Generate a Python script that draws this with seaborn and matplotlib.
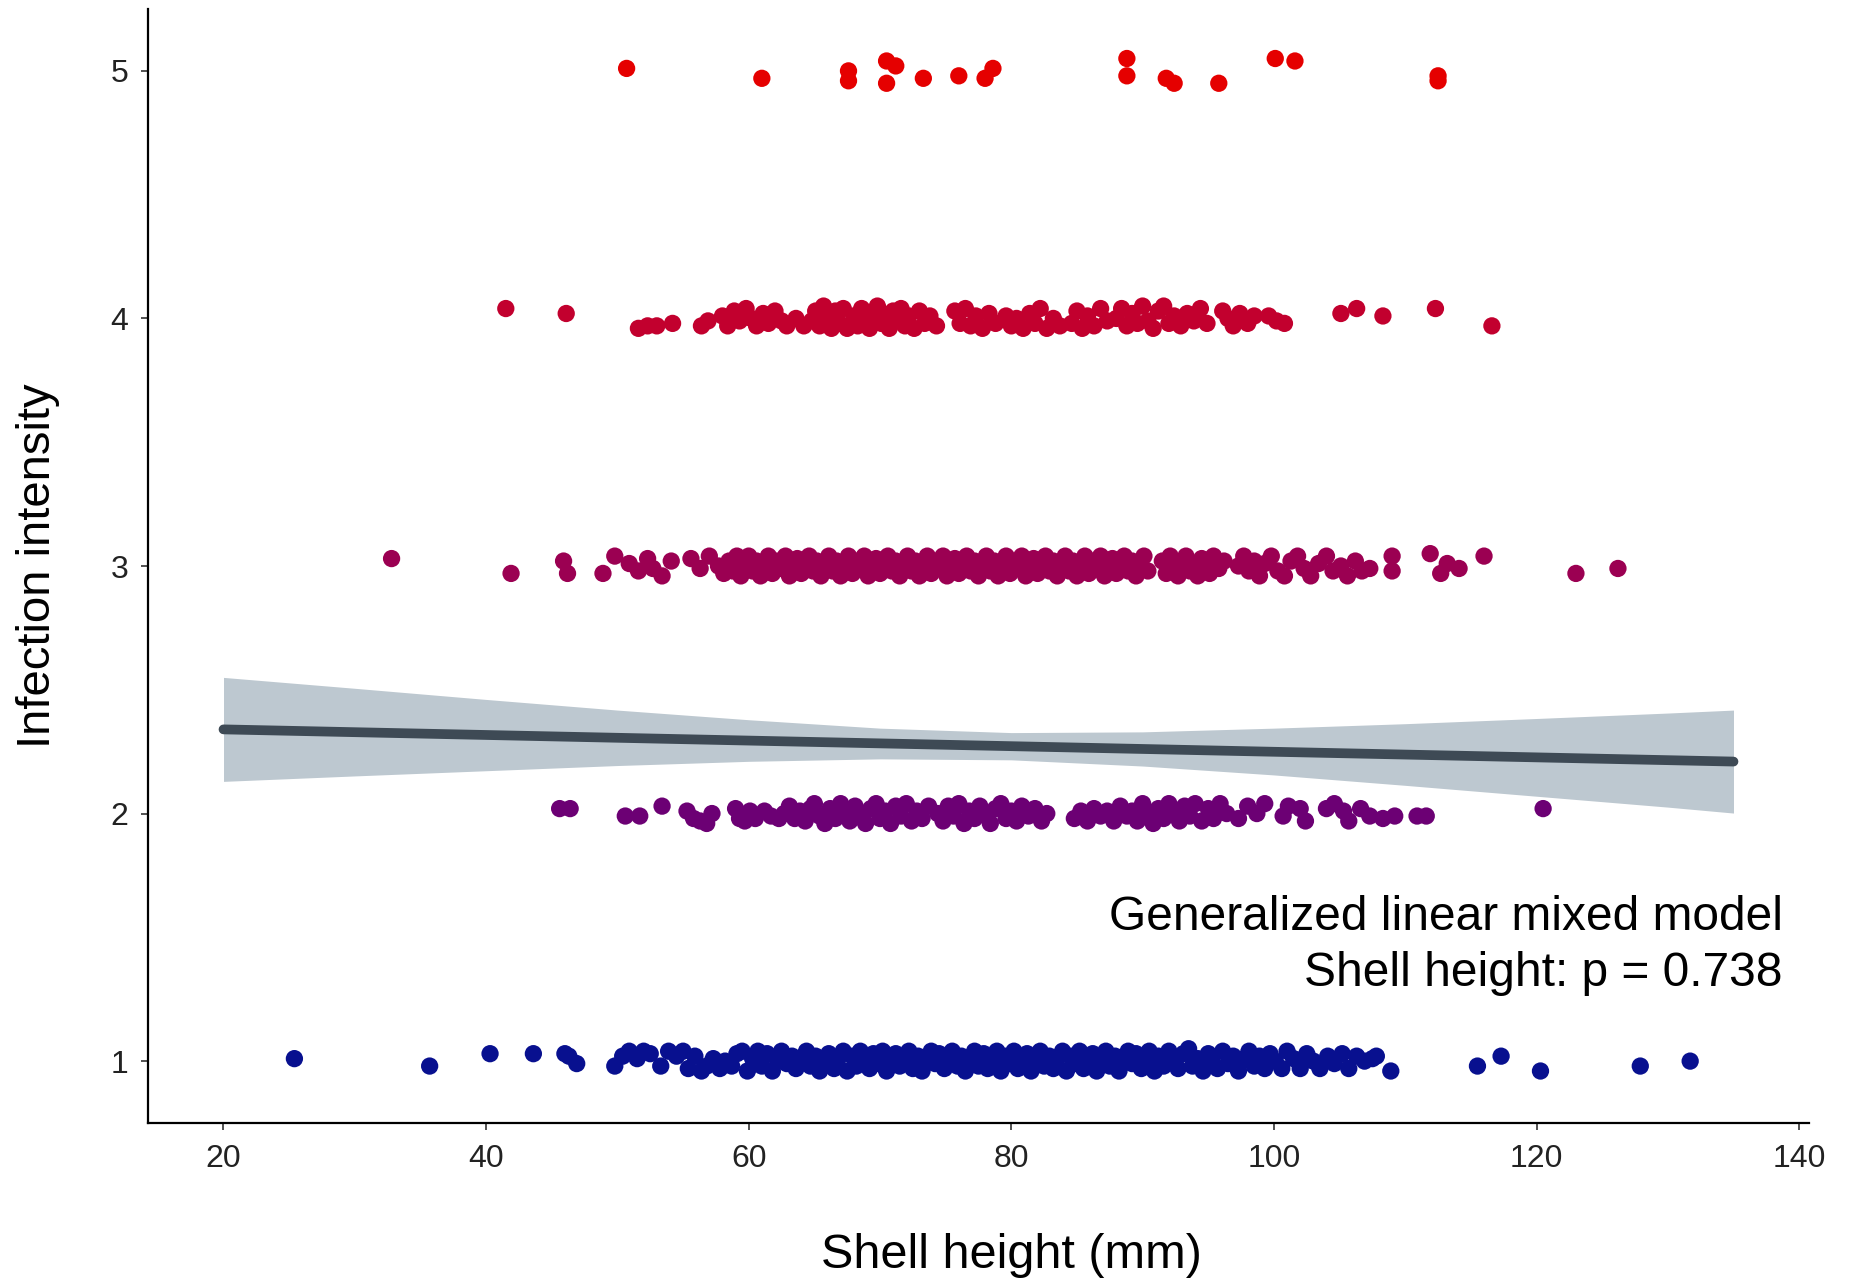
import matplotlib
matplotlib.use("Agg")
import matplotlib.pyplot as plt
import seaborn as sns
import pandas as pd

# ---- observations: (shell height in mm, jittered infection intensity) ----
level1 = [(25.4,1.01),(35.7,0.98),(40.3,1.03),(43.6,1.03),(46.0,1.03),(46.3,1.02),(46.9,0.99),
(49.8,0.98),(50.4,1.02),(50.9,1.04),(51.5,1.01),(52.0,1.04),(52.5,1.03),(53.3,0.98),(53.9,1.04),(54.5,1.02),(55.0,1.04),(55.4,0.97),(55.9,1.02),(56.4,0.96),(56.8,0.98),(57.3,1.01),(57.8,0.97),(58.2,1.00),(58.7,0.98),(59.1,1.03),(59.5,1.04),(59.9,0.96),(60.3,1.01),(60.7,1.04),(61.0,0.98),(61.4,1.03),(61.8,0.96),(62.2,1.00),(62.5,1.04),(62.9,0.99),(63.3,1.02),(63.6,0.97),(64.0,1.01),(64.4,1.04),(64.7,0.98),(65.1,1.02),(65.4,0.96),(65.8,1.00),(66.1,1.03),(66.5,0.97),(66.8,1.01),(67.2,1.04),(67.5,0.96),(67.9,1.02),(68.2,0.98),(68.5,1.04),(68.9,1.00),(69.2,0.97),(69.5,1.03),(69.9,0.99),(70.2,1.04),(70.5,0.96),(70.9,1.01),(71.2,1.03),(71.5,0.98),(71.9,1.00),(72.2,1.04),(72.5,0.97),(72.9,1.02),(73.2,0.96),(73.5,1.01),(73.9,1.04),(74.2,0.99),(74.5,1.03),(74.9,0.97),(75.2,1.00),(75.5,1.04),(75.9,0.98),(76.2,1.02),(76.5,0.96),(76.9,1.01),(77.2,1.04),(77.5,0.98),(77.9,1.03),(78.2,0.97),(78.5,1.00),(78.9,1.04),(79.2,0.96),(79.5,1.02),(79.9,0.99),(80.2,1.04),(80.5,0.97),(80.9,1.01),(81.2,1.03),(81.5,0.96),(81.9,1.00),(82.2,1.04),(82.5,0.98),(82.9,1.02),(83.2,0.97),(83.5,1.01),(83.9,1.04),(84.2,0.96),(84.5,1.02),(84.9,0.99),(85.2,1.04),(85.5,0.97),(85.9,1.01),(86.2,1.03),(86.5,0.96),(86.9,1.00),(87.2,1.04),(87.5,0.98),(87.9,1.02),(88.2,0.96),(88.5,1.01),(88.9,1.04),(89.2,0.99),(89.5,1.03),(89.9,0.97),(90.2,1.00),(90.5,1.04),(90.9,0.96),(91.2,1.02),(91.6,0.98),(92.0,1.04),(92.3,1.00),(92.7,0.97),(93.1,1.03),(93.5,1.05),(93.8,0.98),(94.2,1.01),(94.6,0.96),(95.0,1.03),(95.3,1.00),(95.7,0.97),(96.1,1.04),(96.5,0.99),(96.9,1.02),(97.3,0.96),(97.7,1.01),(98.1,1.04),(98.5,0.98),(98.9,1.02),(99.3,0.97),(99.7,1.03),(100.1,1.00),(100.6,0.97),(101.0,1.04),(101.5,1.01),(102.0,0.97),(102.5,1.03),(103.0,1.00),(103.5,0.97),(104.1,1.02),(104.6,0.99),(105.2,1.03),(105.7,0.97),(106.3,1.02),(106.9,1.00),(107.5,1.01),(107.8,1.02),(108.9,0.96),
(115.5,0.98),(117.3,1.02),(120.3,0.96),(127.9,0.98),(131.7,1.00)]

level2 = [(45.6,2.02),(46.4,2.02),(50.6,1.99),(51.7,1.99),(53.4,2.03),(55.3,2.01),(55.8,1.98),(56.3,1.97),(56.8,1.96),(57.2,2.00),
(59.0,2.02),(59.3,1.98),(59.7,1.97),(60.1,2.01),(60.5,1.98),(61.2,2.01),(61.7,1.99),(62.3,1.98),
(62.7,2.00),(63.1,2.03),(63.5,1.98),(63.9,2.01),(64.3,1.97),(64.7,2.02),(65.0,2.04),(65.4,1.99),(65.8,1.96),(66.2,2.02),(66.6,1.98),(67.0,2.04),(67.3,2.00),(67.7,1.97),(68.1,2.03),(68.5,1.99),(68.9,1.96),(69.3,2.02),(69.7,2.04),(70.0,1.98),(70.4,2.01),(70.8,1.96),(71.2,2.03),(71.6,1.99),(72.0,2.04),(72.4,1.97),(72.8,2.01),(73.2,1.98),(73.7,2.03),
(74.4,2.00),(74.8,1.97),(75.2,2.03),(75.6,1.99),(76.0,2.04),(76.4,1.96),(76.8,2.01),(77.2,1.98),(77.6,2.03),(78.0,2.00),(78.4,1.96),(78.8,2.02),(79.2,2.04),(79.6,1.98),(80.0,2.01),(80.4,1.97),(80.8,2.03),(81.3,1.99),(81.8,2.02),(82.3,1.97),(82.7,2.00),
(84.8,1.98),(85.3,2.01),(85.8,1.97),(86.3,2.02),(86.8,1.99),(87.3,2.01),(87.8,1.97),(88.3,2.03),(88.8,1.99),(89.2,2.01),(89.6,1.97),(90.0,2.04),(90.4,2.00),(90.8,1.96),(91.2,2.02),(91.6,1.98),(92.0,2.04),(92.4,2.00),(92.8,1.97),(93.2,2.03),(93.6,1.99),(94.0,2.04),(94.5,1.97),(95.0,2.02),(95.4,1.98),(95.9,2.04),(96.4,2.00),
(97.3,1.98),(98.0,2.03),(98.7,2.00),(99.3,2.04),(100.7,1.99),(101.1,2.03),(102.0,2.02),(102.4,1.97),(104.0,2.02),(104.6,2.04),(105.3,2.01),(105.7,1.97),(106.6,2.02),(107.3,1.99),(108.3,1.98),(109.2,1.99),(110.9,1.99),(111.6,1.99),(120.5,2.02)]

level3 = [(32.8,3.03),(41.9,2.97),(45.9,3.02),(46.2,2.97),(48.9,2.97),(49.8,3.04),
(50.9,3.01),(51.6,2.98),(52.3,3.03),(52.7,2.99),(53.4,2.96),(54.1,3.02),(55.6,3.03),(56.3,2.99),(57.0,3.04),(57.7,3.00),(58.1,2.97),
(58.5,3.02),(58.8,2.98),(59.1,3.04),(59.4,2.96),(59.7,3.01),(60.0,3.04),(60.3,2.98),(60.6,3.02),(60.9,2.96),(61.2,3.00),(61.5,3.04),(61.8,2.97),(62.1,3.02),(62.5,2.99),(62.8,3.04),(63.1,2.96),(63.4,3.01),(63.7,3.03),(64.0,2.97),(64.3,3.00),(64.6,3.04),(64.9,2.98),(65.2,3.02),(65.5,2.96),(65.8,3.01),(66.1,3.04),(66.4,2.98),(66.7,3.02),(67.0,2.96),(67.3,3.00),(67.6,3.04),(67.9,2.97),(68.2,3.02),(68.5,2.99),(68.8,3.04),(69.1,2.96),(69.4,3.01),(69.7,3.03),(70.0,2.97),(70.3,3.00),(70.6,3.04),(70.9,2.98),(71.2,3.02),(71.5,2.96),(71.8,3.01),(72.1,3.04),(72.4,2.98),(72.7,3.02),(73.0,2.96),(73.3,3.00),(73.6,3.04),(73.9,2.97),(74.2,3.02),(74.5,2.99),(74.8,3.04),(75.1,2.96),(75.4,3.01),(75.7,3.03),(76.0,2.97),(76.3,3.00),(76.6,3.04),(76.9,2.98),(77.2,3.02),(77.5,2.96),(77.8,3.01),(78.1,3.04),(78.4,2.98),(78.7,3.02),(79.0,2.96),(79.3,3.00),(79.6,3.04),(79.9,2.97),(80.2,3.02),(80.5,2.99),(80.8,3.04),(81.1,2.96),(81.4,3.01),(81.7,3.03),(82.0,2.97),(82.3,3.00),(82.6,3.04),(82.9,2.98),(83.2,3.02),(83.5,2.96),(83.8,3.01),(84.1,3.04),(84.4,2.98),(84.7,3.02),(85.0,2.96),(85.3,3.00),(85.6,3.04),(85.9,2.97),(86.2,3.02),(86.5,2.99),(86.8,3.04),(87.1,2.96),(87.4,3.01),(87.7,3.03),(88.0,2.97),(88.3,3.00),(88.6,3.04),(88.9,2.98),(89.2,3.02),(89.5,2.96),(89.8,3.01),(90.1,3.04),(90.4,2.98),
(91.5,3.02),(91.8,2.97),(92.1,3.04),(92.4,3.00),(92.7,2.96),(93.0,3.02),(93.3,3.04),(93.6,2.98),(93.9,3.01),(94.2,2.96),(94.5,3.03),(94.8,3.00),(95.1,2.97),(95.4,3.04),(95.8,2.99),(96.2,3.02),
(97.3,3.00),(97.7,3.04),(98.1,2.98),(98.5,3.02),(98.9,2.96),(99.3,3.01),(99.8,3.04),(100.3,2.98),(100.8,2.96),(101.3,3.02),(101.8,3.04),(102.3,2.99),(102.8,2.96),(103.4,3.01),(104.0,3.04),(104.5,2.98),(105.1,3.00),(105.6,2.96),(106.2,3.02),(106.7,2.98),(107.3,2.99),
(109.0,3.04),(109.0,2.98),(111.9,3.05),(112.7,2.97),(113.2,3.01),(114.1,2.99),(116.0,3.04),(123.0,2.97),(126.2,2.99)]

level4 = [(41.5,4.04),(46.1,4.02),(51.6,3.96),(52.3,3.97),(53.0,3.97),(54.2,3.98),
(56.4,3.97),(56.9,3.99),(58.0,4.01),(58.4,3.97),(58.9,4.03),(59.3,3.99),(59.8,4.04),(60.2,4.00),(60.6,3.97),(61.1,4.02),(61.5,3.98),(62.0,4.03),(62.5,3.99),(62.9,3.97),(63.6,4.00),(64.2,3.97),(64.8,3.99),(65.1,4.03),(65.4,3.97),(65.7,4.05),(66.0,4.00),(66.3,3.96),(66.6,4.03),(66.9,3.98),(67.2,4.04),(67.5,3.96),(68.0,4.01),(68.3,3.97),(68.6,4.04),(68.9,3.99),(69.2,3.96),(69.5,4.02),(69.8,4.05),(70.1,3.98),(70.4,4.01),(70.7,3.96),(71.0,4.03),(71.3,3.99),(71.6,4.04),(71.9,3.97),(72.2,4.01),(72.6,3.96),(73.0,4.03),(73.4,3.98),(73.8,4.01),(74.3,3.97),(75.7,4.03),(76.1,3.98),(76.5,4.04),(76.9,3.97),(77.3,4.01),(77.8,3.96),(78.3,4.02),(78.8,3.98),(79.6,4.01),(80.0,3.97),(80.4,4.00),(80.9,3.96),(81.4,4.02),(81.8,3.98),(82.2,4.04),(82.7,3.96),(83.2,4.00),(83.7,3.97),(84.6,3.98),(85.0,4.03),(85.4,3.96),(85.8,4.01),(86.3,3.97),(86.8,4.04),(87.3,3.99),(88.0,4.00),(88.4,4.04),(88.8,3.97),(89.2,4.02),(89.6,3.98),(90.0,4.05),(90.4,3.99),(90.8,3.96),(91.2,4.03),(91.6,4.05),(92.0,3.98),(92.4,4.01),(92.9,3.97),(93.4,4.02),(93.9,3.99),(94.4,4.04),(94.9,3.98),(96.1,4.03),(96.5,4.00),(96.9,3.97),(97.4,4.02),(98.0,3.98),(98.5,4.01),(99.6,4.01),(100.2,3.99),(100.8,3.98),
(105.1,4.02),(106.3,4.04),(108.3,4.01),(112.3,4.04),(116.6,3.97)]

level5 = [(50.7,5.01),(61.0,4.97),(67.6,5.00),(67.6,4.96),(70.5,5.04),(70.5,4.95),(71.2,5.02),(73.3,4.97),(76.0,4.98),(78.0,4.97),(78.6,5.01),
(88.8,5.05),(88.8,4.98),(91.8,4.97),(92.4,4.95),(95.8,4.95),(100.1,5.05),(101.6,5.04),(112.5,4.98),(112.5,4.96)]

levels = [1, 2, 3, 4, 5]
level_colors = ["#08108f", "#6c0074", "#9b0052", "#c2002e", "#e50000"]

# ---- fitted model line and 95% confidence band ----
fit_x = [20, 135]
fit_y = [2.34, 2.21]
ci_x = [20, 30, 40, 50, 60, 70, 80, 90, 100, 110, 120, 130, 135]
ci_upper = [2.550, 2.506, 2.461, 2.418, 2.379, 2.345, 2.327, 2.330, 2.345, 2.363, 2.384, 2.406, 2.418]
ci_lower = [2.130, 2.152, 2.173, 2.194, 2.211, 2.221, 2.217, 2.192, 2.156, 2.114, 2.070, 2.026, 2.002]

x_ticks = [20, 40, 60, 80, 100, 120, 140]
y_ticks = [1, 2, 3, 4, 5]

rows = []
for lev, pts in zip(levels, [level1, level2, level3, level4, level5]):
    for sx, sy in pts:
        rows.append({"shell_height": sx, "intensity": sy, "level": lev})
df = pd.DataFrame(rows)

sns.set_style("white")
plt.rcParams["font.family"] = ["Liberation Sans", "DejaVu Sans"]

fig = plt.figure(figsize=(18.52, 12.84), dpi=100)
ax = fig.add_axes([148 / 1852, 1 - 1123 / 1284, (1809 - 148) / 1852, (1123 - 9) / 1284])

ax.fill_between(ci_x, ci_lower, ci_upper, color="#bdc8d0", linewidth=0, zorder=1)
sns.lineplot(x=fit_x, y=fit_y, color="#3e4a55", linewidth=7, ax=ax, zorder=2)

palette = dict(zip(levels, level_colors))
sns.scatterplot(data=df, x="shell_height", y="intensity", hue="level", palette=palette,
                s=155, linewidth=0, alpha=1, legend=False, ax=ax, zorder=3)

ax.set_xlim(14.25, 140.75)
ax.set_ylim(0.75, 5.25)
ax.set_xticks(x_ticks)
ax.set_yticks(y_ticks)
ax.set_xticklabels([str(t) for t in x_ticks])
ax.set_yticklabels([str(t) for t in y_ticks])

for side in ("top", "right"):
    ax.spines[side].set_visible(False)
for side in ("left", "bottom"):
    ax.spines[side].set_color("black")
    ax.spines[side].set_linewidth(1.6)

ax.tick_params(axis="both", which="major", direction="out", length=5, width=1.2,
               color="#333333", labelsize=23, labelcolor="#222222", bottom=True, left=True)
ax.tick_params(axis="x", pad=10)
ax.tick_params(axis="y", pad=9)

ax.set_xlabel("")
ax.set_ylabel("")
fig.text(1011 / 1852, 1 - 1255 / 1284, "Shell height (mm)", ha="center", va="center",
         fontsize=35, color="black")
fig.text(38 / 1852, 1 - 566 / 1284, "Infection intensity", ha="center", va="center",
         rotation=90, fontsize=34, color="black")

fig.text(1783 / 1852, 1 - 917 / 1284, "Generalized linear mixed model", ha="right", va="center",
         fontsize=34.5, color="black")
fig.text(1783 / 1852, 1 - 973 / 1284, "Shell height: p = 0.738", ha="right", va="center",
         fontsize=34.5, color="black")

fig.savefig("out.png", dpi=100, facecolor="white")
